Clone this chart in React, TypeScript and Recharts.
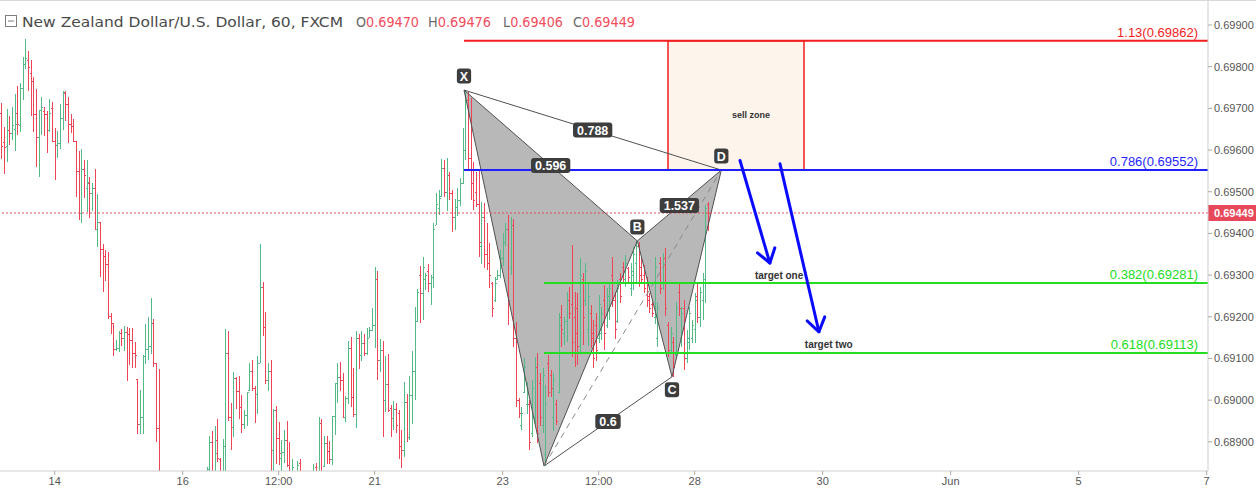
import React from "react";
import {
  ComposedChart,
  Bar,
  Area,
  XAxis,
  YAxis,
  ReferenceLine,
  ReferenceArea,
  ReferenceDot,
} from "recharts";

// hourly NZDUSD bars
const opens = [
  0.69688, 0.6962, 0.6961, 0.69648, 0.6964, 0.6965, 0.6969, 0.6966, 0.69748, 0.69806,
  0.69816, 0.69786, 0.69766, 0.69686, 0.69632, 0.69696, 0.69694, 0.69686, 0.69648, 0.69702,
  0.69622, 0.69612, 0.69616, 0.69678, 0.69738, 0.6971, 0.69662, 0.69658, 0.69621, 0.6955,
  0.6945, 0.69554, 0.6951, 0.69522, 0.69498, 0.6951, 0.6941, 0.69427, 0.69362, 0.69345,
  0.69326, 0.69202, 0.69185, 0.69122, 0.69124, 0.6916, 0.69148, 0.69164, 0.69158, 0.69144,
  0.69114, 0.6905, 0.68942, 0.6896, 0.69106, 0.69122, 0.6913, 0.69184, 0.69088, 0.68932,
  0.688, 0.6872, 0.6868, 0.6872, 0.6875, 0.6872, 0.6864, 0.6867, 0.687, 0.6874,
  0.6877, 0.6873, 0.6876, 0.6879, 0.6877, 0.6879, 0.688, 0.6881, 0.6883, 0.689,
  0.6882, 0.68904, 0.68858, 0.688, 0.6889, 0.69113, 0.6896, 0.68936, 0.69054, 0.69022,
  0.68984, 0.68942, 0.68964, 0.69024, 0.6907, 0.69028, 0.69014, 0.6909, 0.69272, 0.69176,
  0.69048, 0.6907, 0.6888, 0.68976, 0.68909, 0.6886, 0.68875, 0.68904, 0.68844, 0.6881,
  0.6881, 0.688, 0.68848, 0.688, 0.6877, 0.6878, 0.6881, 0.6879, 0.6884, 0.6881,
  0.68944, 0.68842, 0.68898, 0.68878, 0.68858, 0.68961, 0.6904, 0.69056, 0.69048, 0.6896,
  0.69006, 0.69124, 0.69008, 0.68966, 0.69148, 0.69108, 0.69136, 0.69114, 0.6915, 0.69168,
  0.6918, 0.6929, 0.69096, 0.6912, 0.69, 0.69038, 0.6898, 0.68958, 0.68978, 0.6897,
  0.6889, 0.6888, 0.68996, 0.68912, 0.69012, 0.6907, 0.6919, 0.693, 0.69258, 0.6929,
  0.6931, 0.6928, 0.69296, 0.6942, 0.6946, 0.6949, 0.69556, 0.695, 0.6954, 0.69496,
  0.6944, 0.69464, 0.6948, 0.6952, 0.696, 0.6972, 0.6958, 0.6952, 0.695, 0.6947,
  0.6937, 0.6944, 0.6935, 0.6933, 0.6928, 0.6924, 0.6929, 0.693, 0.6934, 0.6938,
  0.6941, 0.6932, 0.6942, 0.6915, 0.69, 0.6894, 0.6902, 0.6899, 0.6899, 0.6892,
  0.6896, 0.6908, 0.6904, 0.6894, 0.6887, 0.6909, 0.6906, 0.6896, 0.6899, 0.6902,
  0.692, 0.6916, 0.6919, 0.6924, 0.6923, 0.692, 0.6922, 0.6913, 0.6929, 0.6924,
  0.6917, 0.6921, 0.6916, 0.6918, 0.6915, 0.6916, 0.6924, 0.6918, 0.6922, 0.693,
  0.6924, 0.6919, 0.6929, 0.6932, 0.6929, 0.69316, 0.6927, 0.693, 0.6933, 0.6937,
  0.6932, 0.693, 0.6928, 0.6925, 0.6923, 0.692, 0.6915, 0.6933, 0.6928, 0.6934,
  0.6918, 0.6912, 0.6914, 0.6911, 0.6926, 0.6915, 0.6922, 0.691, 0.6914, 0.6915,
  0.6917, 0.6925, 0.692, 0.6924, 0.6928, 0.6947,
];
const highs = [
  0.69714, 0.69656, 0.69698, 0.69682, 0.69704, 0.69734, 0.69754, 0.69762, 0.69824, 0.69866,
  0.69838, 0.69816, 0.69775, 0.69746, 0.69696, 0.69728, 0.69704, 0.69694, 0.69722, 0.69716,
  0.69654, 0.69646, 0.69711, 0.69742, 0.69741, 0.69728, 0.69686, 0.69674, 0.69622, 0.69598,
  0.69603, 0.69576, 0.69576, 0.69536, 0.69521, 0.69555, 0.69494, 0.69427, 0.69375, 0.69361,
  0.69356, 0.69209, 0.69185, 0.69144, 0.69166, 0.6917, 0.69178, 0.69176, 0.69174, 0.69174,
  0.6914, 0.6905, 0.69024, 0.69108, 0.69182, 0.692, 0.69246, 0.69194, 0.6909, 0.69074,
  0.6882, 0.6876, 0.6874, 0.6878, 0.688, 0.6873, 0.6869, 0.6872, 0.6876, 0.6879,
  0.688, 0.6878, 0.6881, 0.6882, 0.688, 0.68815, 0.68825, 0.6884, 0.68914, 0.68926,
  0.68938, 0.68954, 0.68862, 0.68906, 0.6917, 0.69166, 0.68994, 0.69067, 0.69056, 0.69058,
  0.69012, 0.68976, 0.6902, 0.6909, 0.69096, 0.69034, 0.69106, 0.69375, 0.69284, 0.69211,
  0.69088, 0.69096, 0.68978, 0.68986, 0.68948, 0.68904, 0.68928, 0.6895, 0.689, 0.68858,
  0.68825, 0.68854, 0.68858, 0.6882, 0.688, 0.68825, 0.68828, 0.68846, 0.6885, 0.6896,
  0.68954, 0.68914, 0.68914, 0.68902, 0.68962, 0.69042, 0.6909, 0.69092, 0.69064, 0.6901,
  0.69142, 0.69152, 0.69078, 0.69166, 0.69158, 0.69166, 0.69158, 0.69174, 0.69176, 0.69222,
  0.6932, 0.6931, 0.69146, 0.69142, 0.69106, 0.6911, 0.68988, 0.68998, 0.68994, 0.68976,
  0.68928, 0.69044, 0.69014, 0.69058, 0.69118, 0.69224, 0.69266, 0.69322, 0.69344, 0.69304,
  0.69326, 0.693, 0.69424, 0.69496, 0.69504, 0.69578, 0.69576, 0.69582, 0.69548, 0.69504,
  0.69482, 0.69508, 0.69532, 0.69652, 0.69744, 0.6974, 0.69724, 0.69572, 0.69548, 0.69552,
  0.69476, 0.69472, 0.69424, 0.69376, 0.69284, 0.69296, 0.69312, 0.6936, 0.694, 0.69424,
  0.69444, 0.6944, 0.69434, 0.69188, 0.69004, 0.68984, 0.691, 0.69044, 0.69, 0.69048,
  0.69104, 0.69112, 0.69064, 0.69076, 0.69036, 0.69108, 0.69072, 0.69064, 0.69, 0.69208,
  0.69228, 0.692, 0.6926, 0.69272, 0.69372, 0.6926, 0.69256, 0.6934, 0.69304, 0.69328,
  0.6928, 0.69228, 0.69192, 0.69208, 0.69252, 0.69224, 0.69276, 0.69268, 0.69284, 0.69344,
  0.6926, 0.69288, 0.69304, 0.69332, 0.69348, 0.6932, 0.69328, 0.69368, 0.69382, 0.6938,
  0.69344, 0.69324, 0.69296, 0.69256, 0.69236, 0.69344, 0.69236, 0.69344, 0.69352, 0.69364,
  0.69188, 0.69176, 0.69152, 0.69236, 0.6928, 0.69224, 0.6924, 0.69168, 0.69224, 0.69192,
  0.69256, 0.6928, 0.69272, 0.69304, 0.69468, 0.69476,
];
const lows = [
  0.6958, 0.69544, 0.6957, 0.69612, 0.69624, 0.69598, 0.69637, 0.69644, 0.69722, 0.69794,
  0.69742, 0.69682, 0.69642, 0.6956, 0.69536, 0.69638, 0.69634, 0.69594, 0.69644, 0.6962,
  0.6953, 0.69582, 0.69603, 0.69648, 0.69668, 0.69618, 0.6964, 0.69618, 0.69488, 0.69432,
  0.69426, 0.69486, 0.69452, 0.69438, 0.69454, 0.69408, 0.69366, 0.69294, 0.6926, 0.69286,
  0.69196, 0.69158, 0.69106, 0.69118, 0.69116, 0.6913, 0.69118, 0.69046, 0.69086, 0.69078,
  0.69078, 0.68917, 0.68918, 0.68918, 0.69086, 0.69096, 0.69112, 0.69078, 0.689, 0.6878,
  0.687, 0.6865, 0.6864, 0.6869, 0.687, 0.6862, 0.686, 0.6864, 0.6868, 0.6871,
  0.6872, 0.687, 0.6874, 0.6875, 0.6873, 0.6876, 0.6877, 0.6878, 0.6879, 0.688,
  0.688, 0.6885, 0.6878, 0.6879, 0.688, 0.6895, 0.68882, 0.68912, 0.6898, 0.68956,
  0.68922, 0.6893, 0.68938, 0.69022, 0.69022, 0.68946, 0.68966, 0.6909, 0.69154, 0.69038,
  0.6902, 0.688, 0.6881, 0.68848, 0.68846, 0.688, 0.68848, 0.6884, 0.6879, 0.6878,
  0.6876, 0.6877, 0.6878, 0.6875, 0.6873, 0.6876, 0.6877, 0.6878, 0.6878, 0.688,
  0.6882, 0.6884, 0.68848, 0.68848, 0.68844, 0.68918, 0.68994, 0.69022, 0.68956, 0.68948,
  0.6899, 0.68984, 0.6896, 0.68934, 0.69074, 0.69094, 0.69106, 0.6911, 0.6915, 0.69168,
  0.69126, 0.69048, 0.69066, 0.68912, 0.68972, 0.68972, 0.68912, 0.68928, 0.68922, 0.68858,
  0.68838, 0.68864, 0.68898, 0.68904, 0.68944, 0.69, 0.69186, 0.69186, 0.69192, 0.69264,
  0.6926, 0.69228, 0.69268, 0.6942, 0.69444, 0.69486, 0.69488, 0.69456, 0.6948, 0.69404,
  0.69408, 0.6944, 0.69464, 0.69518, 0.69576, 0.69552, 0.6948, 0.69456, 0.69464, 0.69344,
  0.69328, 0.69316, 0.69312, 0.69268, 0.692, 0.69236, 0.69288, 0.69292, 0.6932, 0.69368,
  0.6918, 0.693, 0.69128, 0.68984, 0.68956, 0.68928, 0.69016, 0.68968, 0.6888, 0.68912,
  0.68944, 0.68896, 0.68936, 0.6892, 0.68842, 0.69008, 0.69008, 0.68924, 0.6894, 0.69016,
  0.69128, 0.69132, 0.6914, 0.69196, 0.69104, 0.6908, 0.69084, 0.69112, 0.69132, 0.69224,
  0.69128, 0.69124, 0.69076, 0.69092, 0.69136, 0.69144, 0.6912, 0.69172, 0.69192, 0.69224,
  0.69148, 0.69184, 0.69232, 0.6928, 0.69272, 0.69284, 0.69248, 0.69264, 0.69284, 0.69272,
  0.6928, 0.69256, 0.69224, 0.69208, 0.692, 0.69184, 0.69128, 0.69256, 0.69264, 0.692,
  0.69104, 0.69112, 0.69056, 0.69104, 0.692, 0.69128, 0.69072, 0.69088, 0.6912, 0.69136,
  0.69136, 0.69184, 0.69176, 0.69192, 0.69232, 0.69406,
];
const closes = [
  0.6961, 0.69608, 0.69648, 0.6964, 0.6966, 0.69662, 0.69662, 0.69748, 0.69806, 0.6982,
  0.698, 0.69766, 0.69686, 0.69632, 0.69696, 0.69704, 0.69686, 0.69648, 0.69688, 0.69622,
  0.69612, 0.69618, 0.69678, 0.6974, 0.6971, 0.69662, 0.69658, 0.69621, 0.6955, 0.6945,
  0.69554, 0.6954, 0.69524, 0.69498, 0.6951, 0.6941, 0.69427, 0.69362, 0.69345, 0.69326,
  0.69202, 0.69185, 0.69122, 0.69126, 0.6916, 0.69148, 0.69164, 0.69158, 0.69144, 0.69114,
  0.69108, 0.68942, 0.6896, 0.69106, 0.69122, 0.6913, 0.69184, 0.69088, 0.68932, 0.688,
  0.6872, 0.6868, 0.6872, 0.6875, 0.6872, 0.6864, 0.6867, 0.687, 0.6874, 0.6877,
  0.6873, 0.6876, 0.6879, 0.6877, 0.6879, 0.688, 0.6881, 0.68835, 0.689, 0.6882,
  0.68874, 0.6886, 0.688, 0.6889, 0.69113, 0.6896, 0.68936, 0.69054, 0.69022, 0.68984,
  0.68942, 0.68964, 0.6902, 0.6907, 0.69028, 0.69014, 0.6909, 0.69272, 0.69176, 0.69048,
  0.6907, 0.6888, 0.68976, 0.68909, 0.68872, 0.68876, 0.68904, 0.68844, 0.6881, 0.6884,
  0.688, 0.68845, 0.688, 0.6877, 0.6878, 0.6881, 0.6879, 0.6883, 0.688, 0.68944,
  0.6883, 0.68898, 0.68878, 0.68858, 0.68961, 0.6904, 0.69056, 0.69048, 0.6896, 0.69006,
  0.69124, 0.69008, 0.68966, 0.69148, 0.69108, 0.69136, 0.69114, 0.6915, 0.69168, 0.6918,
  0.6929, 0.69096, 0.6912, 0.69, 0.69038, 0.68976, 0.68958, 0.68978, 0.6894, 0.6889,
  0.6888, 0.68996, 0.68912, 0.69012, 0.6907, 0.6919, 0.6926, 0.69258, 0.6932, 0.693,
  0.6928, 0.69296, 0.6941, 0.6947, 0.69486, 0.69556, 0.695, 0.6954, 0.69496, 0.6944,
  0.69464, 0.6948, 0.6952, 0.696, 0.6972, 0.6958, 0.6952, 0.6948, 0.6947, 0.6938,
  0.6944, 0.6935, 0.6933, 0.693, 0.6922, 0.6928, 0.693, 0.6934, 0.6938, 0.6941,
  0.6924, 0.6942, 0.6915, 0.69, 0.6897, 0.6897, 0.6908, 0.6903, 0.689, 0.6903,
  0.6908, 0.6892, 0.6896, 0.6906, 0.6899, 0.6902, 0.6903, 0.6905, 0.6895, 0.6918,
  0.6917, 0.6919, 0.6924, 0.6921, 0.6914, 0.6916, 0.6913, 0.693, 0.692, 0.6931,
  0.6925, 0.6915, 0.691, 0.6912, 0.6923, 0.6921, 0.6916, 0.6925, 0.6927, 0.6924,
  0.6917, 0.6927, 0.6925, 0.6929, 0.6933, 0.69296, 0.6931, 0.6935, 0.6937, 0.693,
  0.6929, 0.6927, 0.6924, 0.6922, 0.6921, 0.6932, 0.6922, 0.6927, 0.6934, 0.6922,
  0.6912, 0.6916, 0.6908, 0.6922, 0.6922, 0.6921, 0.691, 0.6915, 0.6921, 0.6918,
  0.6924, 0.692, 0.6926, 0.6929, 0.6946, 0.69449,
];

// time axis (bar slots, 24 per trading day)
const tickIdx = [20, 68, 104, 140, 188, 224, 260, 308, 356, 404, 452];
const tickLabels = ["14", "16", "12:00", "21", "23", "12:00", "28", "30", "Jun", "5", "7"];
const priceTicks = [0.689, 0.69, 0.691, 0.692, 0.693, 0.694, 0.695, 0.696, 0.697, 0.698, 0.699];

// harmonic pattern
const pointNames = ["X", "A", "B", "C", "D"];
const pointIdx = [173.5, 203.5, 238.5, 251.5, 270];
const pointPrice = [0.69744, 0.68842, 0.69382, 0.69056, 0.69552];
const legs = [["X", "A"], ["A", "B"], ["X", "B"], ["B", "C"], ["C", "D"], ["B", "D"], ["X", "D"], ["A", "C"]];
const dashedLeg = ["A", "D"];
const triangles = [["X", "A", "B"], ["B", "C", "D"]];
const ratioText = ["0.788", "0.596", "1.537", "0.6"];
const ratioLeg = [["X", "D"], ["X", "B"], ["B", "D"], ["A", "C"]];
const badgePoints = ["X", "B", "C", "D"];

// fib levels
const fibText = ["1.13(0.69862)", "0.786(0.69552)", "0.382(0.69281)", "0.618(0.69113)"];
const fibPrice = [0.69862, 0.69552, 0.69281, 0.69113];
const fibStart = ["X", "X", "A", "A"];

const lastPrice = 0.69449;
const sellZoneIdx = [250, 301];
const sellZonePrice = [0.69552, 0.69862];

const noteText = ["sell zone", "target one", "target two"];
const noteIdx = [274, 282.6, 301.3];
const notePrice = [0.69684, 0.693, 0.69134];

const arrowFromIdx = [277, 292];
const arrowFromPrice = [0.69575, 0.69567];
const arrowToIdx = [288.2, 306.6];
const arrowToPrice = [0.69329, 0.69164];

const title = "New Zealand Dollar/U.S. Dollar, 60, FXCM";
const ohlcKeys = ["O", "H", "L", "C"];
const ohlcVals = ["0.69470", "0.69476", "0.69406", "0.69449"];

const UP = "#53b987";
const DOWN = "#ee4556";
const FONT = '"Liberation Sans", Arial, sans-serif';
const fibColors = ["#f21d1d", "#1f1fff", "#22dd22", "#22dd22"];
const badgeDy: Record<string, number> = { X: -14, B: -14, C: 13, D: -14 };

const rows = opens.map((o, i) => ({
  i,
  o,
  h: highs[i],
  l: lows[i],
  c: closes[i],
  hl: [lows[i], highs[i]],
}));

const pIdx = (n: string) => pointIdx[pointNames.indexOf(n)];
const pPrice = (n: string) => pointPrice[pointNames.indexOf(n)];

const triData = triangles.map(([p, q, r]) => {
  const t = (pIdx(q) - pIdx(p)) / (pIdx(r) - pIdx(p));
  const onEdge = pPrice(p) + t * (pPrice(r) - pPrice(p));
  return [
    { i: pIdx(p), v: [pPrice(p), pPrice(p)] },
    { i: pIdx(q), v: [Math.min(pPrice(q), onEdge), Math.max(pPrice(q), onEdge)] },
    { i: pIdx(r), v: [pPrice(r), pPrice(r)] },
  ];
});

function OhlcMark(props: any) {
  const { x, y, width, height, payload } = props;
  if (!payload || height == null || isNaN(y)) return null;
  const top = Math.min(y, y + height);
  const span = Math.abs(height);
  const range = payload.h - payload.l || 1;
  const at = (v: number) => Math.round(top + ((payload.h - v) / range) * span);
  const cx = Math.round(x + width / 2);
  const color = payload.c >= payload.o ? UP : DOWN;
  return (
    <g fill={color}>
      <rect x={cx} y={Math.round(top)} width={1} height={Math.max(1, Math.round(span))} />
      <rect x={cx - 1} y={at(payload.o)} width={1} height={1} />
      <rect x={cx + 1} y={at(payload.c)} width={1} height={1} />
    </g>
  );
}

const charW = (ch: string) => (ch === "." ? 0.278 : /[0-9]/.test(ch) ? 0.556 : 0.5);

function Badge({ cx, cy, text, dy = 0 }: any) {
  const fs = 12.5;
  const tw = [...text].reduce((s: number, ch: string) => s + charW(ch) * fs, 0);
  const w = Math.max(14, tw + 8);
  const h = 15;
  return (
    <g>
      <rect x={cx - w / 2} y={cy + dy - h / 2} width={w} height={h} rx={3} fill="#3d3d3d" />
      <text
        x={cx}
        y={cy + dy}
        dy="0.36em"
        textAnchor="middle"
        fill="#fff"
        fontSize={fs}
        fontWeight="bold"
        fontFamily={FONT}
      >
        {text}
      </text>
    </g>
  );
}

function Arrow(props: any) {
  const { x1, y1, x2, y2 } = props;
  const ang = Math.atan2(y2 - y1, x2 - x1);
  const len = 16;
  const spread = 0.6;
  const a = [x2 - len * Math.cos(ang - spread), y2 - len * Math.sin(ang - spread)];
  const b = [x2 - len * Math.cos(ang + spread), y2 - len * Math.sin(ang + spread)];
  return (
    <g stroke="#0a0aff" strokeWidth={3} fill="none" strokeLinecap="round" strokeLinejoin="round">
      <line x1={x1} y1={y1} x2={x2} y2={y2} />
      <polyline points={`${a[0]},${a[1]} ${x2},${y2} ${b[0]},${b[1]}`} />
    </g>
  );
}

export default function App() {
  return (
    <div
      style={{
        position: "absolute",
        left: 0,
        top: 0,
        width: 1256,
        height: 489,
        background: "#fff",
        overflow: "hidden",
        fontFamily: FONT,
      }}
    >
      <ComposedChart width={1256} height={489} data={rows} margin={{ top: 0, right: 0, bottom: 0, left: 0 }}>
        <XAxis
          dataKey="i"
          type="number"
          domain={[-0.5, 452.5]}
          allowDataOverflow
          ticks={tickIdx}
          interval={0}
          tickFormatter={(v: number) => tickLabels[tickIdx.indexOf(v)] ?? ""}
          height={18}
          tickSize={4}
          axisLine={{ stroke: "#cfcfcf" }}
          tickLine={{ stroke: "#aaa" }}
          tick={{ fontSize: 11, fill: "#555", fontFamily: FONT }}
        />
        <YAxis
          orientation="right"
          width={48}
          domain={[0.6883, 0.6996]}
          allowDataOverflow
          ticks={priceTicks}
          interval={0}
          tickFormatter={(v: number) => v.toFixed(5)}
          tickSize={4}
          axisLine={{ stroke: "#cfcfcf" }}
          tickLine={{ stroke: "#aaa" }}
          tick={{ fontSize: 11, fill: "#555", fontFamily: FONT }}
        />

        <ReferenceArea
          x1={sellZoneIdx[0]}
          x2={sellZoneIdx[1]}
          y1={sellZonePrice[0]}
          y2={sellZonePrice[1]}
          fill="#fdf5ec"
          fillOpacity={1}
          stroke="#f21d1d"
          strokeWidth={1.5}
        />

        <Bar dataKey="hl" barSize={2} shape={<OhlcMark />} isAnimationActive={false} />

        {triData.map((d, k) => (
          <Area
            key={"tri" + k}
            data={d}
            dataKey="v"
            type="linear"
            stroke="none"
            fill="#6a6a6a"
            fillOpacity={0.48}
            isAnimationActive={false}
            dot={false}
            activeDot={false}
          />
        ))}

        {legs.map(([p, q]) => (
          <ReferenceLine
            key={p + q}
            segment={[
              { x: pIdx(p), y: pPrice(p) },
              { x: pIdx(q), y: pPrice(q) },
            ]}
            stroke="#505050"
            strokeWidth={1}
            ifOverflow="visible"
          />
        ))}
        <ReferenceLine
          segment={[
            { x: pIdx(dashedLeg[0]), y: pPrice(dashedLeg[0]) },
            { x: pIdx(dashedLeg[1]), y: pPrice(dashedLeg[1]) },
          ]}
          stroke="#8a8a8a"
          strokeDasharray="6 5"
          ifOverflow="visible"
        />

        {ratioText.map((t, k) => {
          const [p, q] = ratioLeg[k];
          return (
            <ReferenceDot
              key={"ratio" + k}
              x={(pIdx(p) + pIdx(q)) / 2}
              y={(pPrice(p) + pPrice(q)) / 2}
              r={0}
              ifOverflow="visible"
              shape={(dp: any) => <Badge cx={dp.cx} cy={dp.cy} text={t} />}
            />
          );
        })}

        {fibPrice.map((p, k) => (
          <ReferenceLine
            key={"fib" + k}
            segment={[
              { x: pIdx(fibStart[k]), y: p },
              { x: 452.5, y: p },
            ]}
            ifOverflow="visible"
            shape={(lp: any) => (
              <g>
                <line x1={lp.x1} y1={lp.y1} x2={lp.x2} y2={lp.y2} stroke={fibColors[k]} strokeWidth={2} />
                <text
                  x={Math.max(lp.x1, lp.x2) - 10}
                  y={lp.y1 - 4}
                  textAnchor="end"
                  fontSize={13}
                  fill={fibColors[k]}
                  fontFamily={FONT}
                >
                  {fibText[k]}
                </text>
              </g>
            )}
          />
        ))}

        <ReferenceLine
          y={lastPrice}
          ifOverflow="visible"
          shape={(lp: any) => (
            <g>
              <line x1={lp.x1} y1={lp.y1} x2={lp.x2} y2={lp.y2} stroke="#e8495a" strokeDasharray="2 2" strokeWidth={1} />
              <rect x={Math.max(lp.x1, lp.x2)} y={lp.y1 - 8} width={48} height={16} fill="#e8495a" />
              <text
                x={Math.max(lp.x1, lp.x2) + 6}
                y={lp.y1}
                dy="0.36em"
                fontSize={11}
                fontWeight="bold"
                fill="#fff"
                fontFamily={FONT}
              >
                {lastPrice.toFixed(5)}
              </text>
            </g>
          )}
        />

        {arrowFromIdx.map((ix, k) => (
          <ReferenceLine
            key={"arrow" + k}
            segment={[
              { x: ix, y: arrowFromPrice[k] },
              { x: arrowToIdx[k], y: arrowToPrice[k] },
            ]}
            ifOverflow="visible"
            shape={<Arrow />}
          />
        ))}

        {badgePoints.map((n) => (
          <ReferenceDot
            key={"pt" + n}
            x={pIdx(n)}
            y={pPrice(n)}
            r={0}
            ifOverflow="visible"
            shape={(dp: any) => <Badge cx={dp.cx} cy={dp.cy} text={n} dy={badgeDy[n]} />}
          />
        ))}

        {noteText.map((t, k) => (
          <ReferenceDot
            key={"note" + k}
            x={noteIdx[k]}
            y={notePrice[k]}
            r={0}
            ifOverflow="visible"
            shape={(dp: any) => (
              <text
                x={dp.cx}
                y={dp.cy}
                dy="0.36em"
                fontSize={k === 0 ? 9 : 10}
                fontWeight="bold"
                fill="#333"
                fontFamily={FONT}
              >
                {t}
              </text>
            )}
          />
        ))}
      </ComposedChart>

      <div style={{ position: "absolute", left: 0, top: 0, width: 1256, height: 1, background: "#d8d8d8" }} />
      <svg width={700} height={34} style={{ position: "absolute", left: 0, top: 0 }}>
        <rect x={5.5} y={15.5} width={11} height={11} fill="#fff" stroke="#7d7d7d" />
        <line x1={8} y1={21} x2={14} y2={21} stroke="#7d7d7d" />
        <text
          x={22}
          y={26.5}
          fontSize={14}
          fill="#4a4a4a"
          fontFamily='"DejaVu Sans", sans-serif'
          textLength={321}
          lengthAdjust="spacingAndGlyphs"
        >
          {title}
        </text>
        {ohlcKeys.map((key, j) => (
          <text
            key={key}
            x={[356, 428, 503, 573][j]}
            y={26.5}
            fontSize={14}
            fontFamily='"DejaVu Sans", sans-serif'
            textLength={[63, 63, 60, 62][j]}
            lengthAdjust="spacingAndGlyphs"
          >
            <tspan fill="#6a6a6a">{key}</tspan>
            <tspan fill="#ef4d5d">{ohlcVals[j]}</tspan>
          </text>
        ))}
      </svg>
    </div>
  );
}
